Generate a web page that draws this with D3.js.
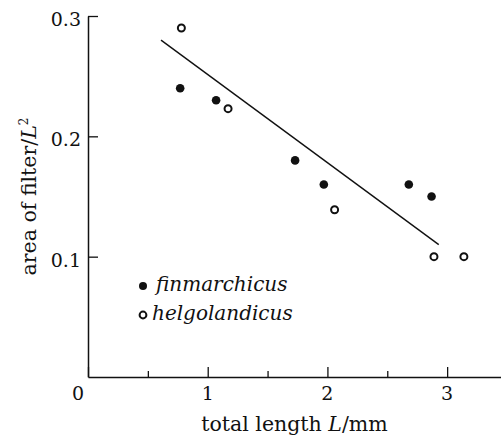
<!DOCTYPE html>
<html>
<head>
<meta charset="utf-8">
<script src="https://cdn.jsdelivr.net/npm/d3@7"></script>
<style>
  html, body { margin: 0; padding: 0; background: #fff; }
  svg { display: block; }
  text { font-family: "DejaVu Serif", serif; fill: #111; }
</style>
</head>
<body>
<svg id="chart" width="501" height="438"></svg>
<script>
// ---- data ----
const finmarchicusL = [0.77, 1.07, 1.73, 1.97, 2.68, 2.87];
const finmarchicusA = [0.24, 0.23, 0.18, 0.16, 0.16, 0.15];
const helgolandicusL = [0.78, 1.17, 2.06, 2.89, 3.14];
const helgolandicusA = [0.29, 0.223, 0.139, 0.10, 0.10];
const fitLineL = [0.61, 2.93];
const fitLineA = [0.28, 0.11];
const xMajorTicks = [0, 1, 2, 3];
const xMinorTicks = [0.5, 1.5, 2.5];
const yTicks = [0.1, 0.2, 0.3];
const seriesNames = ["finmarchicus", "helgolandicus"];
const xTitle = "total length ";
const yTitle = "area of filter/";

// ---- layout ----
const svg = d3.select("#chart");
const x = d3.scaleLinear().domain([0, 3.45]).range([88, 501]);
const y = d3.scaleLinear().domain([0, 0.3]).range([377, 16]);
const ink = "#111";
const serif = "'DejaVu Serif', serif";

// x axis (ticks pointing inward / upward)
const gx = svg.append("g").attr("transform", `translate(0,${y(0)})`);
gx.call(d3.axisTop(x).tickValues(xMajorTicks).tickSize(10).tickSizeOuter(0).tickFormat(""));
gx.select(".domain").attr("stroke", ink).attr("stroke-width", 1.5);
gx.selectAll(".tick line").attr("stroke", ink).attr("stroke-width", 1.3);
const gxm = svg.append("g").attr("transform", `translate(0,${y(0)})`);
gxm.call(d3.axisTop(x).tickValues(xMinorTicks).tickSize(6).tickFormat(""));
gxm.select(".domain").remove();
gxm.selectAll(".tick line").attr("stroke", ink).attr("stroke-width", 1.3);

// x tick labels
svg.append("g").selectAll("text").data(xMajorTicks).join("text")
  .attr("x", d => x(d) + (d === 0 ? -10 : 0))
  .attr("y", y(0) + 23)
  .attr("text-anchor", "middle")
  .attr("font-family", serif)
  .attr("font-size", 19)
  .text(d => d3.format("d")(d));

// y axis (ticks pointing inward / right)
const gy = svg.append("g").attr("transform", `translate(${x(0)},0)`);
gy.call(d3.axisRight(y).tickValues(yTicks).tickSize(10).tickSizeOuter(0).tickFormat(""));
gy.select(".domain").attr("stroke", ink).attr("stroke-width", 1.5);
gy.selectAll(".tick line").attr("stroke", ink).attr("stroke-width", 1.3);

svg.append("g").selectAll("text").data(yTicks).join("text")
  .attr("x", x(0) - 7)
  .attr("y", d => y(d) + 10)
  .attr("text-anchor", "end")
  .attr("font-family", serif)
  .attr("font-size", 19)
  .text(d => d3.format(".1f")(d));

// axis titles
const xt = svg.append("text")
  .attr("x", (x.range()[0] + x.range()[1]) / 2)
  .attr("y", 431)
  .attr("text-anchor", "middle")
  .attr("font-family", serif)
  .attr("font-size", 20.5);
xt.append("tspan").text(xTitle);
xt.append("tspan").attr("font-style", "italic").text("L");
xt.append("tspan").text("/mm");

const yt = svg.append("text")
  .attr("transform", `translate(36,${(y(0) + y(0.3)) / 2}) rotate(-90)`)
  .attr("text-anchor", "middle")
  .attr("font-family", serif)
  .attr("font-size", 20.5);
yt.append("tspan").text(yTitle);
yt.append("tspan").attr("font-style", "italic").text("L");
yt.append("tspan").attr("font-size", 12).attr("dy", -8).text("2");

// regression line
svg.append("path")
  .datum(fitLineL.map((d, i) => [d, fitLineA[i]]))
  .attr("d", d3.line().x(d => x(d[0])).y(d => y(d[1])))
  .attr("stroke", ink).attr("stroke-width", 1.4).attr("fill", "none");

// points
svg.append("g").selectAll("circle")
  .data(finmarchicusL.map((d, i) => [d, finmarchicusA[i]]))
  .join("circle")
  .attr("cx", d => x(d[0])).attr("cy", d => y(d[1]))
  .attr("r", 4.3).attr("fill", ink);

svg.append("g").selectAll("circle")
  .data(helgolandicusL.map((d, i) => [d, helgolandicusA[i]]))
  .join("circle")
  .attr("cx", d => x(d[0])).attr("cy", d => y(d[1]))
  .attr("r", 3.5).attr("fill", "#fff").attr("stroke", ink).attr("stroke-width", 2);

// legend
const lg = svg.append("g");
lg.append("circle").attr("cx", 143).attr("cy", 286).attr("r", 4).attr("fill", ink);
lg.append("text").attr("x", 156).attr("y", 291).attr("font-size", 20)
  .attr("font-family", serif)
  .attr("font-style", "italic").text(seriesNames[0]);
lg.append("circle").attr("cx", 143).attr("cy", 315).attr("r", 3.4)
  .attr("fill", "#fff").attr("stroke", ink).attr("stroke-width", 2);
lg.append("text").attr("x", 152).attr("y", 320).attr("font-size", 20)
  .attr("font-family", serif)
  .attr("font-style", "italic").text(seriesNames[1]);
</script>
</body>
</html>
